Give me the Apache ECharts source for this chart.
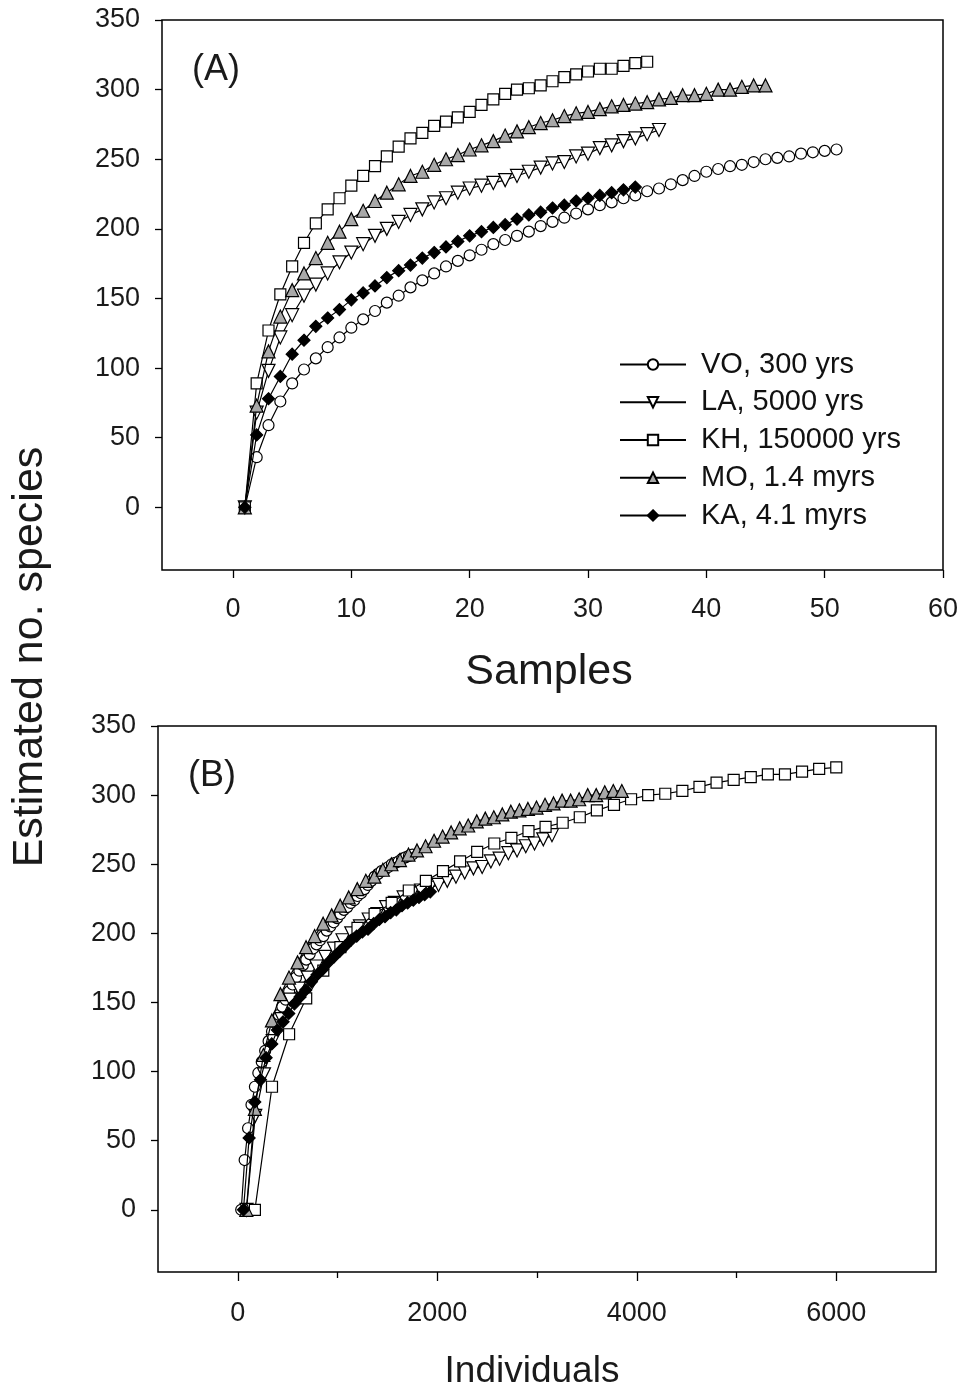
<!DOCTYPE html>
<html>
<head>
<meta charset="utf-8">
<script src="https://cdn.jsdelivr.net/npm/echarts@6/dist/echarts.min.js"></script>
<style>
html,body{margin:0;padding:0;background:#fff;}
#chart{width:966px;height:1394px;}
</style>
</head>
<body>
<div id="chart"></div>
<script>
// ---- data (estimated species richness per number of samples) ----
const siteNames = ['VO, 300 yrs', 'LA, 5000 yrs', 'KH, 150000 yrs', 'MO, 1.4 myrs', 'KA, 4.1 myrs'];

const richVO = [0,36,59,76,89,99,107,115,122,129,135,141,147,152,158,163,168,173,177,181,185,189,192,195,198,202,205,208,211,214,217,219,222,224,227,229,232,235,238,241,243,245,246,248,250,251,252,254,255,256,257];
const richLA = [0,68,98,122,138,152,160,168,176,183,189,195,200,205,210,214,219,222,226,229,231,233,235,238,241,244,247,248,252,254,258,260,263,265,268,271];
const richKH = [0,89,127,153,173,190,204,214,222,231,238,245,252,259,265,269,274,277,280,284,289,293,297,300,301,303,306,309,311,313,315,315,317,319,320];
const richMO = [0,73,112,137,156,168,179,190,198,207,213,220,226,232,238,241,246,250,253,257,260,263,267,270,273,276,278,281,283,284,286,288,289,290,291,293,294,296,296,297,300,300,302,303,303];
const richKA = [0,52,78,94,110,120,130,136,142,149,154,159,165,170,174,179,183,187,191,195,198,201,203,207,210,212,215,217,220,222,224,226,228,230];

// total individuals sampled per site (end of curve in panel B)
const totalIndividuals = [1750, 3150, 6000, 3850, 1930];

// tick labels
const yTicks = [0, 50, 100, 150, 200, 250, 300, 350];
const xTicksSamples = [0, 10, 20, 30, 40, 50, 60];
const xTicksIndividuals = [0, 2000, 4000, 6000];
const xMinorIndividuals = [1000, 3000, 5000];

// ---- chart ----
const richness = [richVO, richLA, richKH, richMO, richKA];
const symbols = ['circle', 'triangle', 'rect', 'triangle', 'diamond'];
const rotations = [0, 180, 0, 0, 0];
const fills = ['#ffffff', '#ffffff', '#ffffff', '#a8a8a8', '#000000'];
const sizes = [11, 13, 11, 13, 12];
const FONT = '"Liberation Sans", Arial, sans-serif';

const series = [];
richness.forEach((arr, k) => {
  const base = {
    name: siteNames[k],
    type: 'line',
    symbol: symbols[k],
    symbolRotate: rotations[k],
    symbolSize: sizes[k],
    showAllSymbol: true,
    lineStyle: {color: '#000', width: 1.2},
    itemStyle: {color: fills[k], borderColor: '#000', borderWidth: 1.2},
    emphasis: {disabled: true},
    z: 2 + k
  };
  series.push(Object.assign({}, base, {
    xAxisIndex: 0, yAxisIndex: 0,
    data: arr.map((v, i) => [i + 1, v])
  }));
  const per = totalIndividuals[k] / arr.length;
  series.push(Object.assign({}, base, {
    xAxisIndex: 1, yAxisIndex: 1,
    data: arr.map((v, i) => [(i + 1) * per, v])
  }));
});

const tickLine = {color: '#000', width: 1.3};
const plain = v => String(v);
const labelStyle = {fontFamily: FONT, fontSize: 27, color: '#1a1a1a', formatter: plain};
const hiddenLine = {show: false, onZero: false};

const option = {
  animation: false,
  backgroundColor: '#fff',
  grid: [
    {left: 162, top: 20, width: 781, height: 550, show: true, borderColor: '#000', borderWidth: 1.5, backgroundColor: 'transparent'},
    {left: 158, top: 726, width: 778, height: 546, show: true, borderColor: '#000', borderWidth: 1.5, backgroundColor: 'transparent'}
  ],
  xAxis: [
    {gridIndex: 0, type: 'value', position: 'bottom', min: -6, max: 60,
      axisLine: hiddenLine, splitLine: {show: false},
      axisTick: {show: true, length: 8, customValues: xTicksSamples, lineStyle: tickLine},
      axisLabel: Object.assign({customValues: xTicksSamples, margin: 26}, labelStyle)},
    {gridIndex: 1, type: 'value', position: 'bottom', min: -800, max: 7000,
      axisLine: hiddenLine, splitLine: {show: false},
      axisTick: {show: true, length: 9, customValues: xTicksIndividuals, lineStyle: tickLine},
      axisLabel: Object.assign({customValues: xTicksIndividuals, margin: 28}, labelStyle)},
    {gridIndex: 1, type: 'value', position: 'bottom', offset: 0, min: -800, max: 7000,
      axisLine: hiddenLine, splitLine: {show: false},
      axisTick: {show: true, length: 6, customValues: xMinorIndividuals, lineStyle: tickLine},
      axisLabel: {show: false}}
  ],
  yAxis: [
    {gridIndex: 0, type: 'value', position: 'left', min: -45, max: 350,
      axisLine: hiddenLine, splitLine: {show: false},
      axisTick: {show: true, length: 7, customValues: yTicks, lineStyle: tickLine},
      axisLabel: Object.assign({customValues: yTicks, margin: 22}, labelStyle)},
    {gridIndex: 1, type: 'value', position: 'left', min: -45, max: 350,
      axisLine: hiddenLine, splitLine: {show: false},
      axisTick: {show: true, length: 7, customValues: yTicks, lineStyle: tickLine},
      axisLabel: Object.assign({customValues: yTicks, margin: 22}, labelStyle)}
  ],
  legend: {
    data: siteNames,
    orient: 'vertical',
    left: 614, top: 345,
    itemWidth: 66, itemHeight: 13, itemGap: 8.75,
    selectedMode: false,
    textStyle: {fontFamily: FONT, fontSize: 29, color: '#111', lineHeight: 28, padding: [0, 0, 0, 10]}
  },
  graphic: [
    {type: 'text', x: 192, y: 70, style: {text: '(A)', fontFamily: FONT, fontSize: 36, fill: '#1a1a1a', align: 'left', verticalAlign: 'middle'}},
    {type: 'text', x: 188, y: 776, style: {text: '(B)', fontFamily: FONT, fontSize: 36, fill: '#1a1a1a', align: 'left', verticalAlign: 'middle'}},
    {type: 'text', x: 549, y: 672, style: {text: 'Samples', fontFamily: FONT, fontSize: 43, fill: '#1a1a1a', align: 'center', verticalAlign: 'middle'}},
    {type: 'text', x: 532, y: 1372, style: {text: 'Individuals', fontFamily: FONT, fontSize: 37, fill: '#1a1a1a', align: 'center', verticalAlign: 'middle'}},
    {type: 'text', x: 30, y: 657, rotation: Math.PI / 2, style: {text: 'Estimated no. species', fontFamily: FONT, fontSize: 43, fill: '#1a1a1a', align: 'center', verticalAlign: 'middle'}}
  ],
  series: series
};

const chart = echarts.init(document.getElementById('chart'), null, {renderer: 'canvas'});
chart.setOption(option);
</script>
</body>
</html>
